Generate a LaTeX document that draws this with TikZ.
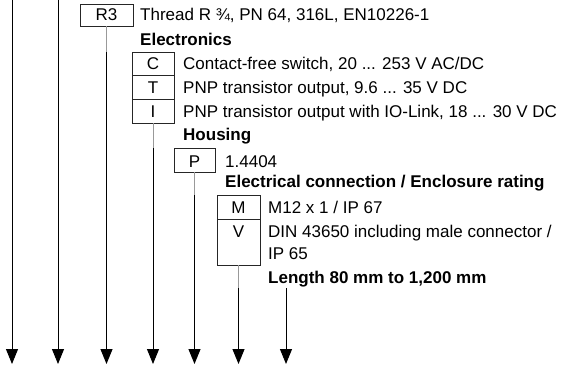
\documentclass[tikz,border=0pt]{standalone}
\usepackage{fontspec}
\setmainfont{Liberation Sans}
\usetikzlibrary{arrows.meta}
\begin{document}
\begin{tikzpicture}[x=1pt,y=-1pt,
  codebox/.style={draw=black!85, line width=0.8pt, inner sep=0pt, rectangle},
  lbl/.style={anchor=base, inner sep=0pt, font=\fontsize{17}{20}\selectfont},
  desc/.style={anchor=base west, inner sep=0pt, font=\fontsize{17}{20}\selectfont},
  head/.style={anchor=base west, inner sep=0pt, font=\fontsize{17}{20}\selectfont\bfseries},
  arr/.style={line width=1pt, -{Triangle[width=12pt,length=15pt]}},
  stub/.style={line width=1pt, black!40}]
\useasboundingbox (0,0) rectangle (572,364);

% boxes
\node[codebox, minimum width=53pt, minimum height=22pt] (r3) at (106.5,15) {};
\node[codebox, minimum width=42pt, minimum height=23.67pt] (bc) at (153,63.8) {};
\node[codebox, minimum width=42pt, minimum height=23.67pt] (bt) at (153,87.5) {};
\node[codebox, minimum width=42pt, minimum height=23.67pt] (bi) at (153,111.2) {};
\node[codebox, minimum width=41pt, minimum height=24pt] (bp) at (194.5,160) {};
\node[codebox, minimum width=43pt, minimum height=24pt] (bm) at (238.5,207) {};
\node[codebox, minimum width=43pt, minimum height=46pt] (bv) at (238.5,242) {};

% box letters
\node[lbl] (lr3) at (106.5,20) {R3};
\node[lbl] (lc) at (153,69) {C};
\node[lbl] (lt) at (153,93) {T};
\node[lbl] (li) at (153,117) {I};
\node[lbl] (lp) at (194.5,167) {P};
\node[lbl] (lm) at (238.5,213) {M};
\node[lbl] (lv) at (238.5,237) {V};

% texts
\node[desc] (d1) at (140,20) {Thread R ¾, PN 64, 316L, EN10226-1};
\node[head] (h1) at (140,45) {Electronics};
\node[desc] (dc) at (183,69) {Contact-free switch, 20 ... 253 V AC/DC};
\node[desc] (dt) at (183,93) {PNP transistor output, 9.6 ... 35 V DC};
\node[desc] (di) at (183,117) {PNP transistor output with IO-Link, 18 ... 30 V DC};
\node[head] (h2) at (183,140) {Housing};
\node[desc] (dp) at (225,167) {1.4404};
\node[head] (h3) at (225,187) {Electrical connection / Enclosure rating};
\node[desc] (dm) at (268,213) {M12 x 1 / IP 67};
\node[desc] (dv) at (268,237) {DIN 43650 including male connector /};
\node[desc] (dv2) at (268,259) {IP 65};
\node[head] (h4) at (268,283) {Length 80 mm to 1,200 mm};

% connector points
\coordinate (s1) at (12,0);    \coordinate (e1) at (12,364);
\coordinate (s2) at (58,0);    \coordinate (e2) at (58,364);
\coordinate (j3) at (106.5,52);  \coordinate (e3) at (106.5,364);
\coordinate (j4) at (153,148);   \coordinate (e4) at (153,364);
\coordinate (j5) at (194.5,195); \coordinate (e5) at (194.5,364);
\coordinate (j6) at (238.5,288); \coordinate (e6) at (238.5,364);
\coordinate (s7) at (286,288);   \coordinate (e7) at (286,364);

\draw[stub] (r3.south) -- (j3);
\draw[stub] (bi.south) -- (j4);
\draw[stub] (bp.south) -- (j5);
\draw[stub] (bv.south) -- (j6);

\draw[arr] (s1) -- (e1);
\draw[arr] (s2) -- (e2);
\draw[arr] (j3) -- (e3);
\draw[arr] (j4) -- (e4);
\draw[arr] (j5) -- (e5);
\draw[arr] (j6) -- (e6);
\draw[arr] (s7) -- (e7);
\end{tikzpicture}
\end{document}
